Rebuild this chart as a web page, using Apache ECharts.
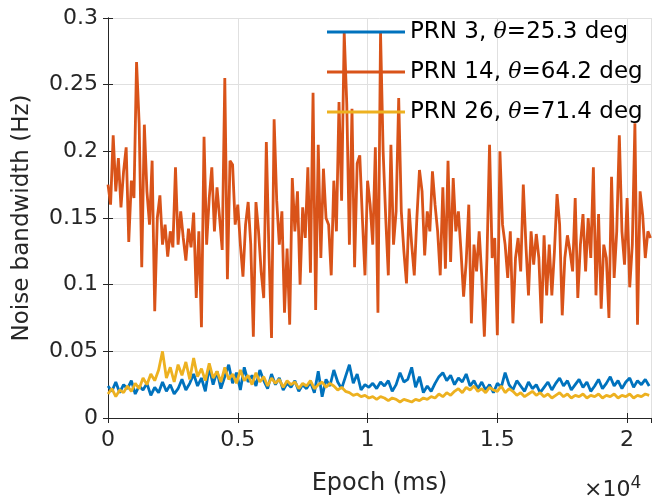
<!DOCTYPE html>
<html>
<head>
<meta charset="utf-8">
<script src="https://cdn.jsdelivr.net/npm/echarts@6/dist/echarts.min.js"></script>
<style>html,body{margin:0;padding:0;background:#fff}#c{width:654px;height:501px}</style>
</head>
<body>
<div id="c"></div>
<script>
// ---- data ----
const seriesNames = ['PRN 3', 'PRN 14', 'PRN 26'];
const elevations = ['25.3', '64.2', '71.4'];
const xTickLabels = ['0', '0.5', '1', '1.5', '2'];
const yTickLabels = ['0', '0.05', '0.1', '0.15', '0.2', '0.25', '0.3'];
const orangeStepMs = 100;
const lowStepMs = 150;
const prn14 = [0.175,0.16,0.212,0.17,0.195,0.158,0.185,0.203,0.132,0.178,
0.165,0.267,0.221,0.113,0.22,0.17,0.145,0.193,0.08,0.15,
0.167,0.13,0.145,0.121,0.14,0.128,0.188,0.13,0.155,0.135,
0.118,0.142,0.128,0.154,0.09,0.14,0.068,0.211,0.13,0.165,
0.188,0.14,0.173,0.15,0.126,0.255,0.104,0.193,0.19,0.145,
0.16,0.13,0.106,0.145,0.162,0.13,0.061,0.162,0.14,0.11,
0.09,0.207,0.125,0.06,0.224,0.163,0.13,0.155,0.079,0.127,
0.07,0.18,0.14,0.17,0.1,0.158,0.135,0.188,0.109,0.244,
0.081,0.205,0.12,0.187,0.15,0.145,0.107,0.178,0.14,0.237,
0.163,0.289,0.235,0.13,0.232,0.113,0.191,0.197,0.15,0.107,
0.178,0.16,0.13,0.203,0.079,0.289,0.2,0.15,0.107,0.205,
0.13,0.155,0.24,0.155,0.125,0.101,0.157,0.13,0.107,0.15,
0.186,0.17,0.122,0.155,0.14,0.185,0.16,0.14,0.107,0.173,
0.112,0.193,0.117,0.18,0.14,0.155,0.125,0.091,0.117,0.16,
0.071,0.13,0.11,0.14,0.106,0.061,0.12,0.205,0.12,0.135,
0.062,0.2,0.145,0.13,0.105,0.14,0.071,0.12,0.135,0.11,
0.175,0.13,0.092,0.14,0.115,0.138,0.12,0.071,0.137,0.092,
0.13,0.092,0.125,0.168,0.145,0.077,0.12,0.137,0.125,0.11,
0.165,0.09,0.13,0.153,0.11,0.15,0.12,0.188,0.092,0.153,
0.082,0.13,0.12,0.075,0.181,0.105,0.14,0.212,0.14,0.115,
0.165,0.098,0.13,0.221,0.07,0.17,0.152,0.12,0.14,0.135];
const prn3 = [0.024,0.02,0.027,0.019,0.025,0.022,0.028,0.018,0.024,0.021,
0.026,0.017,0.023,0.019,0.027,0.02,0.025,0.018,0.022,0.029,
0.021,0.026,0.033,0.024,0.03,0.02,0.038,0.025,0.035,0.022,
0.031,0.04,0.026,0.034,0.021,0.038,0.027,0.032,0.024,0.036,
0.028,0.022,0.033,0.025,0.03,0.021,0.026,0.023,0.028,0.02,
0.025,0.022,0.027,0.019,0.035,0.016,0.029,0.024,0.036,0.027,
0.022,0.031,0.04,0.026,0.033,0.021,0.025,0.023,0.026,0.022,
0.027,0.024,0.028,0.02,0.025,0.034,0.027,0.029,0.038,0.023,
0.031,0.019,0.024,0.02,0.026,0.031,0.034,0.028,0.032,0.025,
0.03,0.027,0.033,0.024,0.028,0.022,0.027,0.021,0.025,0.019,
0.026,0.023,0.034,0.025,0.021,0.028,0.024,0.02,0.027,0.022,
0.025,0.019,0.023,0.027,0.021,0.026,0.03,0.024,0.028,0.021,
0.025,0.029,0.023,0.027,0.02,0.024,0.029,0.022,0.026,0.031,
0.024,0.028,0.022,0.027,0.03,0.023,0.028,0.025,0.029,0.024];
const prn26 = [0.018,0.022,0.016,0.021,0.019,0.024,0.02,0.026,0.022,0.03,
0.025,0.033,0.028,0.036,0.05,0.03,0.038,0.027,0.04,0.032,
0.042,0.029,0.045,0.031,0.037,0.028,0.041,0.03,0.035,0.027,
0.038,0.029,0.033,0.026,0.036,0.028,0.032,0.025,0.034,0.027,
0.031,0.024,0.03,0.026,0.029,0.023,0.028,0.025,0.027,0.022,
0.026,0.024,0.028,0.022,0.025,0.027,0.023,0.026,0.024,0.021,
0.023,0.02,0.019,0.017,0.018,0.016,0.017,0.015,0.016,0.014,
0.016,0.015,0.013,0.015,0.014,0.012,0.014,0.013,0.012,0.014,
0.013,0.015,0.014,0.016,0.015,0.018,0.016,0.019,0.017,0.02,
0.022,0.019,0.023,0.021,0.024,0.02,0.022,0.019,0.023,0.021,
0.02,0.024,0.019,0.022,0.02,0.017,0.019,0.016,0.018,0.02,
0.017,0.019,0.016,0.018,0.015,0.017,0.019,0.016,0.018,0.015,
0.017,0.016,0.018,0.015,0.017,0.016,0.018,0.015,0.017,0.016,
0.018,0.015,0.017,0.016,0.018,0.015,0.017,0.016,0.018,0.017];

const colors = ['#0072BD', '#D95319', '#EDB120'];
const FONT = '"DejaVu Sans", Verdana, sans-serif';
const SERIF = '"DejaVu Serif", serif';
const toPairs = (arr, step) => arr.map((v, i) => [i * step, v]);

const chart = echarts.init(document.getElementById('c'), null, {renderer: 'canvas'});
const legendMap = {};
seriesNames.forEach((n, k) => { legendMap[n] = n + ', {i|θ}=' + elevations[k] + ' deg'; });

const axisColor = '#262626';
const option = {
  animation: false,
  backgroundColor: '#fff',
  grid: {left: 108, right: 3, top: 18, bottom: 83, containLabel: false},
  legend: {
    orient: 'vertical', left: 322, top: 15,
    itemWidth: 78, itemHeight: 3, itemGap: 16, icon: 'rect',
    formatter: n => legendMap[n],
    textStyle: {fontFamily: FONT, fontSize: 23, color: '#000', lineHeight: 24,
      rich: {i: {fontFamily: SERIF, fontSize: 22, fontStyle: 'italic', color: '#000'}}},
    data: seriesNames
  },
  xAxis: [{
    type: 'value', min: 0, max: 20920, interval: 5000,
    name: 'Epoch (ms)', nameLocation: 'middle', nameGap: 54,
    nameTextStyle: {fontFamily: FONT, fontSize: 24, color: '#262626'},
    axisLine: {show: true, lineStyle: {color: axisColor, width: 1}},
    axisTick: {show: true, inside: true, length: 5, lineStyle: {color: axisColor}},
    axisLabel: {fontFamily: FONT, fontSize: 22, color: '#262626', margin: 11, showMaxLabel: false,
      formatter: v => { if (v % 5000 !== 0) return ''; const k = v / 5000; return xTickLabels[k] !== undefined ? xTickLabels[k] : ''; }},
    splitLine: {show: true, lineStyle: {color: '#e0e0e0', width: 1}}
  }, {
    type: 'value', min: 0, max: 20920, interval: 5000, position: 'top',
    axisLine: {show: true, lineStyle: {color: axisColor, width: 1}},
    axisTick: {show: true, inside: true, length: 5, lineStyle: {color: axisColor}},
    axisLabel: {show: false}, splitLine: {show: false}
  }],
  yAxis: [{
    type: 'value', min: 0, max: 0.3, interval: 0.05,
    name: 'Noise bandwidth (Hz)', nameLocation: 'middle', nameGap: 74,
    nameTextStyle: {fontFamily: FONT, fontSize: 23, color: '#262626'},
    axisLine: {show: true, lineStyle: {color: axisColor, width: 1}},
    axisTick: {show: true, inside: true, length: 5, lineStyle: {color: axisColor}},
    axisLabel: {fontFamily: FONT, fontSize: 22, color: '#262626', margin: 10,
      formatter: v => { const k = Math.round(v / 0.05); return yTickLabels[k] !== undefined ? yTickLabels[k] : ''; }},
    splitLine: {show: true, lineStyle: {color: '#e0e0e0', width: 1}}
  }, {
    type: 'value', min: 0, max: 0.3, interval: 0.05, position: 'right',
    axisLine: {show: true, lineStyle: {color: axisColor, width: 1}},
    axisTick: {show: true, inside: true, length: 5, lineStyle: {color: axisColor}},
    axisLabel: {show: false}, splitLine: {show: false}
  }],
  graphic: [{
    type: 'text', left: 584, top: 475,
    style: {
      text: '×10{s|4}',
      font: '22px ' + FONT, fill: '#262626',
      rich: {s: {fontSize: 17, fontFamily: FONT, fill: '#262626', verticalAlign: 'top', padding: [0, 0, 14, 0]}}
    }
  }],
  series: [
    {name: seriesNames[0], type: 'line', data: toPairs(prn3, lowStepMs), showSymbol: false, symbol: 'none',
      lineStyle: {color: colors[0], width: 2.8}, itemStyle: {color: colors[0]}, z: 2},
    {name: seriesNames[1], type: 'line', data: toPairs(prn14, orangeStepMs), showSymbol: false, symbol: 'none',
      lineStyle: {color: colors[1], width: 2.8}, itemStyle: {color: colors[1]}, z: 3},
    {name: seriesNames[2], type: 'line', data: toPairs(prn26, lowStepMs), showSymbol: false, symbol: 'none',
      lineStyle: {color: colors[2], width: 2.8}, itemStyle: {color: colors[2]}, z: 4}
  ]
};
chart.setOption(option);
</script>
</body>
</html>
